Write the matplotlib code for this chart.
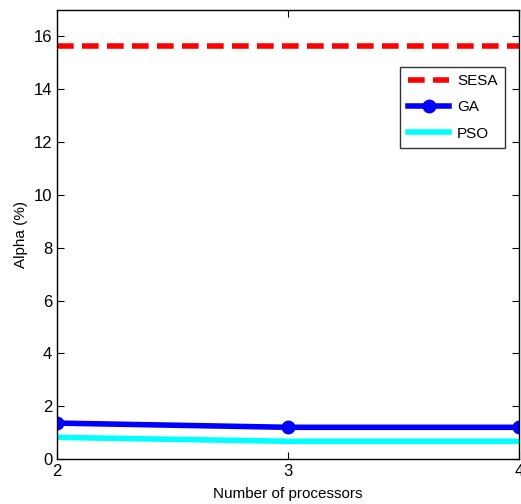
import matplotlib
matplotlib.use('Agg')
import matplotlib.pyplot as plt

plt.rcParams['font.family'] = ['Liberation Sans', 'DejaVu Sans']

# data
processors = [2, 3, 4]
sesa = [15.62, 15.62, 15.62]
ga = [1.36, 1.2, 1.2]
pso = [0.82, 0.67, 0.67]

fig = plt.figure(figsize=(5.21, 5.04), dpi=100)
ax = fig.add_axes([57 / 521, 1 - 459 / 504, 462 / 521, 449 / 504])

ax.plot(processors, sesa, color='red', linestyle='--', linewidth=4, dashes=(3, 1.5), label='SESA')
ax.plot(processors, ga, color='blue', linewidth=4, marker='o', markersize=9, label='GA')
ax.plot(processors, pso, color='cyan', linewidth=4, label='PSO')

ax.set_xlim(2, 4)
ax.set_ylim(0, 17)
ax.set_xticks(processors)
ax.set_yticks(range(0, 17, 2))
ax.tick_params(direction='in', top=True, right=True, labelsize=12, length=5)
ax.set_xlabel('Number of processors', fontsize=11, labelpad=6)
ax.set_ylabel('Alpha (%)', fontsize=11)

for sp in ax.spines.values():
    sp.set_linewidth(1)

leg = ax.legend(loc='upper right', bbox_to_anchor=(0.97, 0.874), fancybox=False,
                edgecolor='black', fontsize=11, handlelength=2.7, handletextpad=0.5,
                borderpad=0.5, labelspacing=0.8, borderaxespad=0)
leg.get_frame().set_linewidth(1)

fig.savefig('out.png', dpi=100)
